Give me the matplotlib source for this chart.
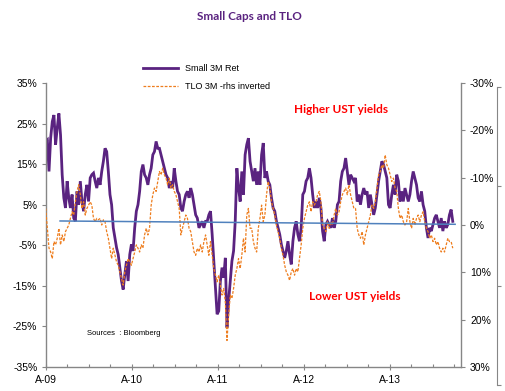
import numpy as np
import pandas as pd
import matplotlib
matplotlib.use("Agg")
import matplotlib.pyplot as plt
import matplotlib.dates as mdates
from matplotlib.ticker import FuncFormatter, FixedLocator

small_3m = [
    20.6, 21.0, 13.2, 21.4, 25.5, 27.1, 19.8, 23.9, 27.5, 22.2, 12.4, 6.7, 4.2, 10.8, 6.7, 4.2,
    7.5, 1.7, 0.9, 8.3, 5.0, 10.8, 5.8, 3.4, 7.5, 9.9, 5.8, 11.6, 12.4, 12.8, 10.8, 9.1,
    11.6, 9.9, 13.2, 15.7, 18.9, 18.1, 13.2, 7.5, 5.0, -0.7, -3.2, -5.6, -7.3, -10.5, -13.8, -15.9,
    -12.2, -8.9, -13.8, -7.3, -4.8, -6.4, -0.7, 3.4, 5.0, 8.3, 13.2, 14.9, 12.4, 11.6,
    # 2010
    9.9, 12.4, 14.0, 17.3, 18.1, 20.6, 18.9, 18.9, 17.3, 15.7, 14.0, 12.4, 11.6, 9.1, 10.8, 9.1,
    14.0, 10.8, 8.3, 7.5, 4.2, 3.4, 5.8, 7.5, 8.3, 6.7, 9.1, 7.5, 5.0, 2.5, 1.7, -0.7,
    0.1, 0.9, -0.7, 0.9, 0.9, 2.5, 3.4, -2.3, -8.9, -15.5, -22.0, -21.2, -13.8, -10.5, -13.0, -8.1,
    -25.3, -18.7, -13.8, -8.9, -6.4, 0.9, 14.0, 9.1, 5.8, 13.2, 7.5, 17.3, 19.8, 21.4, 15.7,
    # 2011
    13.2, 10.8, 14.0, 9.9, 13.2, 9.9, 17.3, 20.2, 11.6, 13.2, 10.8, 9.9, 6.7, 4.2, 3.4, 0.9,
    -0.7, -2.3, -4.8, -6.4, -8.1, -6.4, -4.0, -7.3, -9.7, -4.0, -0.7, 0.9, -2.3, -4.0, -0.7, 7.5,
    8.3, 10.8, 11.6, 14.0, 11.6, 7.5, 4.2, 5.8, 4.2, 6.7, 4.2, -1.5, -4.0, 0.1, 0.9, 0.1,
    -0.7, 1.7, -0.7, 0.9, 5.0, 5.8, 10.8, 13.2, 14.0, 16.5, 13.2, 9.9, 12.4, 11.6, 10.8,
    # 2012 onwards
    11.6, 5.8, 7.5, 5.0, 7.5, 9.1, 7.5, 8.3, 4.2, 7.5, 5.0, 2.5, 4.2, 7.5, 10.8, 13.2,
    15.7, 14.9, 13.2, 11.6, 5.0, 4.2, 7.5, 9.9, 7.5, 12.4, 10.8, 5.8, 8.3, 5.8, 9.1, 7.5,
    5.8, 7.5, 10.8, 13.2, 11.6, 9.9, 6.7, 5.8, 8.3, 5.0, 3.4, -0.7, -3.2, -0.7, -1.5, 0.1,
    1.7, 2.5, 0.9, -0.7, 1.7, -1.5, 0.9, -0.7, 0.1, 2.5, 3.8, 0.9,
]

tlo_3m = [
    -3.5, 0.7, 4.9, 5.7, 7.1, 3.5, 4.2, 2.8, 0.7, 4.2, 2.1, 3.5, 1.4, 0.7, 0.0, -1.4,
    -2.8, -2.1, -4.9, -7.1, -8.5, -6.4, -3.5, -4.9, -2.1, -3.5, -4.2, -4.9, -4.2, -1.4, -0.7, -1.4,
    -1.1, -1.4, 0.0, -1.1, -0.7, 1.4, 2.8, 4.9, 7.1, 4.9, 6.4, 7.8, 8.5, 9.9, 11.3, 12.7,
    9.9, 8.5, 7.1, 7.8, 8.5, 7.1, 5.7, 4.2, 4.9, 5.7, 4.2, 4.9, 2.1, 0.7,
    # 2010
    2.1, 0.7, -4.2, -6.4, -7.8, -7.1, -9.2, -11.3, -10.6, -12.0, -10.6, -9.9, -8.5, -9.9, -7.8, -8.5,
    -7.1, -6.4, -4.9, -3.5, 2.1, 0.7, -0.7, -2.1, -1.4, 0.7, 1.4, 3.5, 5.7, 6.4, 4.9, 5.7,
    4.2, 5.7, 3.5, 2.1, 4.2, 6.4, 3.5, 6.4, 9.2, 10.6, 12.0, 10.6, 12.7, 14.8, 13.4, 16.3,
    24.4, 19.1, 14.8, 15.5, 13.4, 10.6, 9.2, 7.1, 9.2, 6.4, 2.8, 5.7, -2.1, -3.5, 0.7,
    # 2011
    0.7, 3.5, 4.9, 5.7, 0.7, -1.4, -4.2, -0.7, -2.1, -6.4, -9.2, -7.8, -4.9, -3.5, -2.1, 0.0,
    1.4, 2.8, 4.9, 6.4, 8.5, 9.9, 10.6, 11.7, 9.9, 9.2, 10.6, 9.2, 9.9, 7.1, 4.2, 0.7,
    -1.4, -2.8, -4.2, -4.9, -2.8, -4.9, -4.2, -4.9, -6.4, -7.1, -4.9, 0.0, 0.7, 1.4, -0.7, 0.7,
    -0.7, 0.0, -2.1, -3.5, -2.1, -2.8, -4.9, -6.4, -7.1, -7.8, -6.4, -8.5, -6.4, -4.9, -3.5,
    # 2012 onwards
    -3.5, 0.7, 2.1, 2.8, 1.4, 4.2, 2.1, 0.7, -0.7, -2.1, -4.2, -3.5, -4.9, -7.8, -10.6, -11.3,
    -12.7, -12.0, -14.8, -12.7, -12.0, -10.6, -9.2, -9.9, -7.8, -7.1, -3.5, -1.4, -2.1, -0.7, 0.0, -0.7,
    -3.5, -0.7, 0.7, -1.4, 0.0, -1.4, -2.1, -0.7, -2.1, -2.8, -0.7, 0.7, 1.4, 2.8, 2.1, 3.5,
    2.8, 4.2, 3.5, 4.9, 5.7, 4.9, 5.7, 4.2, 2.8, 3.5, 3.5, 4.9,
]

dates = pd.date_range("2009-04-01", periods=len(small_3m), freq="7D")

# straight trend line (rhs units)
trend_dates = pd.to_datetime(["2009-06-01", "2014-01-04"])
trend_vals = [-0.85, -0.15]

purple = "#5a2380"
orange = "#ee7d1e"
grey = "#868686"

plt.rcParams["font.family"] = ["Liberation Sans", "DejaVu Sans"]

fig = plt.figure(figsize=(5.06, 3.91), dpi=100)
ax = fig.add_axes([45.7 / 506, 1 - 367 / 391, 415.3 / 506, 284 / 391])
ax2 = ax.twinx()

l1, = ax.plot(dates, small_3m, color=purple, lw=2.0, solid_joinstyle="miter",
              label="Small 3M Ret")
l2, = ax2.plot(dates, tlo_3m, color=orange, lw=0.9, ls=(0, (2.2, 1.2)),
               label="TLO 3M -rhs inverted")
ax2.plot(trend_dates, trend_vals, color="#4f81bd", lw=1.1)

ax.set_ylim(-35, 35)
ax.set_yticks(np.arange(-35, 36, 10))
ax.yaxis.set_major_formatter(FuncFormatter(lambda v, p: f"{v:.0f}%"))
ax2.set_ylim(30, -30)
ax2.set_yticks(np.arange(-30, 31, 10))
ax2.yaxis.set_major_formatter(FuncFormatter(lambda v, p: f"{v:.0f}%"))

ax.set_xlim(pd.Timestamp("2009-04-01"), pd.Timestamp("2014-01-29"))
ax.xaxis.set_major_locator(mdates.MonthLocator(bymonth=4, bymonthday=1))
ax.xaxis.set_minor_locator(mdates.MonthLocator(bymonth=[1, 7, 10], bymonthday=1))
ax.xaxis.set_major_formatter(FuncFormatter(
    lambda v, p: mdates.num2date(v).strftime("%b")[0] + "-" + mdates.num2date(v).strftime("%y")))

for a in (ax, ax2):
    a.spines["top"].set_visible(False)
    for s in a.spines.values():
        s.set_color(grey)
        s.set_linewidth(1.0)
ax.spines["right"].set_visible(False)
ax2.spines["left"].set_visible(False)
ax2.spines["bottom"].set_visible(False)

ax.tick_params(axis="y", direction="out", length=3, width=0.8, color=grey,
               labelsize=7.5, pad=3)
ax2.tick_params(axis="y", direction="out", length=3, width=0.8, color=grey,
                labelsize=7.5, pad=3.5)
ax.tick_params(axis="x", which="major", direction="inout", length=5, width=0.8,
               color=grey, labelsize=7.5, pad=3)
ax.tick_params(axis="x", which="minor", direction="in", length=2.5, width=0.8, color=grey)

# extra bare axis line at the far right
ax3 = fig.add_axes([497 / 506, 1 - 385 / 391, 0.005, 298 / 391])
ax3.set_ylim(0, 1)
ax3.yaxis.set_major_locator(FixedLocator([0, 1 / 3, 2 / 3, 1]))
ax3.set_xticks([])
ax3.set_yticklabels([])
ax3.patch.set_visible(False)
for k in ("top", "right", "bottom"):
    ax3.spines[k].set_visible(False)
ax3.spines["left"].set_color(grey)
ax3.tick_params(axis="y", direction="in", length=3, width=0.8, color=grey)

fig.text(249.5 / 506, 1 - 16 / 391, "Small Caps and TLO", ha="center", va="center",
         color=purple, fontsize=8.5, fontweight="bold", family=["Lato", "DejaVu Sans"])

fig.legend([l1, l2], ["Small 3M Ret", "TLO 3M -rhs inverted"], loc="upper left",
           bbox_to_anchor=(143 / 506, 1 - 64 / 391), frameon=False, fontsize=6.5,
           borderpad=0, borderaxespad=0, handlelength=3.9, handletextpad=0.8,
           labelspacing=1.0)

ax.text(0.712, 0.905, "Higher UST yields", transform=ax.transAxes, ha="center",
        va="center", color="#ff0000", fontsize=8.5, fontweight="bold",
        family=["Lato", "DejaVu Sans"])
ax.text(0.7436, 0.25, "Lower UST yields", transform=ax.transAxes, ha="center",
        va="center", color="#ff0000", fontsize=8.5, fontweight="bold",
        family=["Lato", "DejaVu Sans"])
ax.text(0.0994, 0.1197, "Sources  : Bloomberg", transform=ax.transAxes, ha="left",
        va="center", fontsize=5.5)

fig.savefig("out.png", dpi=100)
